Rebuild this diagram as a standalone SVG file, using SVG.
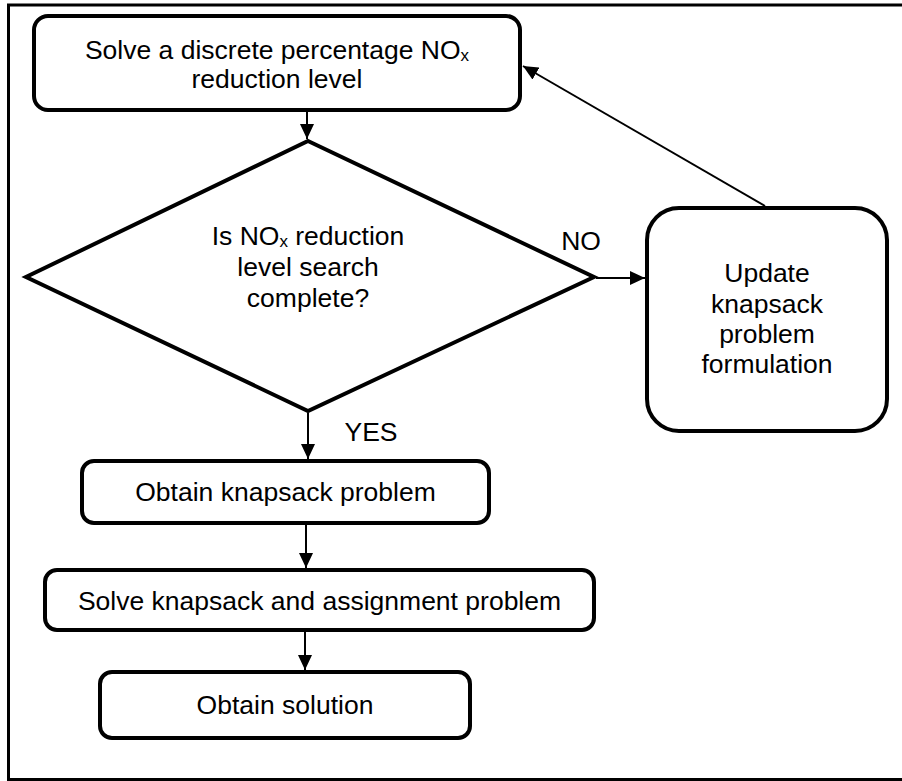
<svg xmlns="http://www.w3.org/2000/svg" width="902" height="781" viewBox="0 0 902 781">
  <style>
    .box { fill: #ffffff; stroke: #000000; stroke-width: 4; }
    .frame { fill: #ffffff; stroke: #000000; stroke-width: 3; }
    .conn { fill: none; stroke: #000000; stroke-width: 2; }
    text { font-family: "Liberation Sans", Arial, sans-serif; font-size: 26.5px; fill: #000000; text-anchor: middle; }
    .sub { font-size: 17px; }
  </style>
  <defs>
    <marker id="arrow" markerUnits="userSpaceOnUse" markerWidth="15" markerHeight="14" refX="15" refY="7" orient="auto">
      <path d="M0,0 L15,7 L0,14 z" fill="#000000"/>
    </marker>
  </defs>

  <rect class="frame" x="8.5" y="5" width="900" height="774.5"/>

  <g id="connectors">
    <line class="conn" x1="307" y1="112" x2="307" y2="139" marker-end="url(#arrow)"/>
    <line class="conn" x1="596" y1="278" x2="645" y2="278" marker-end="url(#arrow)"/>
    <line class="conn" x1="765" y1="206" x2="523" y2="66" marker-end="url(#arrow)"/>
    <line class="conn" x1="308" y1="413" x2="308" y2="459" marker-end="url(#arrow)"/>
    <line class="conn" x1="306" y1="525" x2="306" y2="568" marker-end="url(#arrow)"/>
    <line class="conn" x1="305" y1="632" x2="305" y2="670" marker-end="url(#arrow)"/>
  </g>

  <g id="labels">
    <text x="581" y="250">NO</text>
    <text x="371" y="441">YES</text>
  </g>

  <g id="solve-level">
    <rect class="box" x="34" y="16" width="486" height="94" rx="14"/>
    <text x="277" y="59">Solve a discrete percentage NO<tspan class="sub" dy="2">x</tspan></text>
    <text x="277" y="88">reduction level</text>
  </g>

  <g id="decision">
    <polygon class="box" points="308,141 594,277 308,411 26,277"/>
    <text x="308" y="245">Is NO<tspan class="sub" dy="2">x</tspan><tspan dy="-2"> reduction</tspan></text>
    <text x="308" y="276">level search</text>
    <text x="308" y="307">complete?</text>
  </g>

  <g id="update">
    <rect class="box" x="647" y="208" width="240" height="223" rx="32"/>
    <text x="767" y="282">Update</text>
    <text x="767" y="313">knapsack</text>
    <text x="767" y="343">problem</text>
    <text x="767" y="373">formulation</text>
  </g>

  <g id="obtain-knapsack">
    <rect class="box" x="82" y="461" width="407" height="62" rx="12"/>
    <text x="285.5" y="501">Obtain knapsack problem</text>
  </g>

  <g id="solve-knapsack">
    <rect class="box" x="45" y="570" width="549" height="60" rx="12"/>
    <text x="319.5" y="610">Solve knapsack and assignment problem</text>
  </g>

  <g id="obtain-solution">
    <rect class="box" x="100" y="672" width="370" height="66" rx="12"/>
    <text x="285" y="714">Obtain solution</text>
  </g>
</svg>
